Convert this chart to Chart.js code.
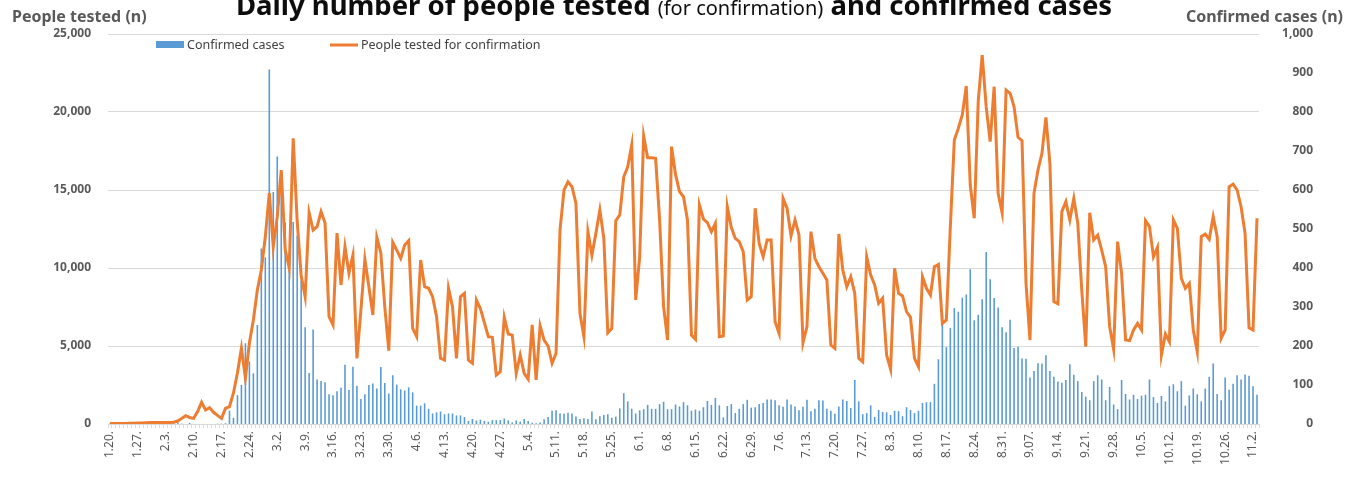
<!DOCTYPE html>
<html>
<head>
<meta charset="utf-8">
<title>Daily number of people tested and confirmed cases</title>
<script src="https://cdn.jsdelivr.net/npm/chart.js@4.4.0/dist/chart.umd.min.js"></script>
<style>
  html, body { margin: 0; padding: 0; background: #ffffff; }
  #wrap { width: 1358px; height: 490px; }
</style>
</head>
<body>
<div id="wrap"><canvas id="daily" width="1358" height="490"></canvas></div>
<script>
// one label every 7 days, as printed under the axis
const tickLabels = ["1.20.", "1.27.", "2.3.", "2.10.", "2.17.", "2.24.", "3.2.", "3.9.", "3.16.", "3.23.", "3.30.",
  "4.6.", "4.13.", "4.20.", "4.27.", "5.4.", "5.11.", "5.18.", "5.25.", "6.1.", "6.8.", "6.15.", "6.22.", "6.29.",
  "7.6.", "7.13.", "7.20.", "7.27.", "8.3.", "8.10.", "8.17.", "8.24.", "8.31.", "9.07.", "9.14.", "9.21.", "9.28.",
  "10.5.", "10.12.", "10.19.", "10.26.", "11.2."];

// daily confirmed cases, 1.20 -> 11.3 (right axis)
const confirmed = [
  1, 0, 0, 0, 1, 0, 1, 1, 0, 0, 2, 5,
  1, 3, 0, 1, 2, 4, 1, 0, 3, 0, 0, 0, 0, 0, 0, 1, 1, 2, 34, 16, 74, 100, 207, 160, 130, 254, 450, 427, 909,
  595, 686, 600, 516, 438, 518, 483, 367, 248, 131, 242, 114, 110, 107, 76, 74, 84, 93, 152, 87, 147, 98, 64, 76, 100, 104, 91, 146, 105, 78, 125,
  101, 89, 86, 94, 81, 47, 47, 53, 39, 27, 30, 32, 25, 27, 27, 22, 22, 18, 8, 13, 9, 11, 8, 6, 10, 10, 10, 14, 9, 4,
  9, 6, 13, 8, 3, 2, 4, 12, 18, 34, 35, 27, 26, 29, 27, 19, 13, 15, 13, 32, 12, 20, 23, 25, 16, 19, 40, 79, 58, 39, 27,
  35, 38, 49, 39, 39, 51, 57, 38, 38, 50, 45, 56, 48, 34, 37, 34, 43, 59, 49, 67, 48, 17, 46, 51, 28, 39, 51, 62, 42, 43,
  51, 54, 63, 63, 61, 48, 44, 63, 50, 45, 35, 44, 62, 33, 39, 61, 60, 39, 34, 26, 45, 63, 59, 41, 113, 58, 25, 28, 48, 18, 36,
  31, 30, 23, 34, 33, 20, 43, 36, 28, 34, 54, 56, 56, 103, 166, 279, 197, 246, 297, 288, 324, 332, 397, 266, 280, 320, 441, 371, 323, 299, 248,
  235, 267, 195, 198, 168, 167, 119, 136, 156, 155, 176, 136, 121, 109, 106, 113, 153, 126, 110, 82, 70, 61, 110, 125, 114, 61, 95, 50, 38, 113,
  77, 63, 75, 64, 73, 75, 114, 69, 54, 72, 58, 97, 102, 84, 110, 47, 73, 91, 76, 58, 91, 121, 155, 77, 61, 119, 88, 103, 125, 114, 127,
  124, 97, 75
];

// people tested for confirmation per day (left axis)
const tested = [
  30, 30, 40, 40, 40, 50, 50, 60, 60, 80, 90, 100,
  100, 100, 90, 100, 110, 190, 350, 530, 420, 360, 800, 1390, 900, 1050, 750, 550, 360, 1000, 1110, 1990, 3270, 4870, 2950, 5190, 6670, 8590, 9870, 12000, 14800,
  11370, 13290, 16280, 11150, 10000, 18310, 13000, 9500, 8160, 13540, 12440, 12650, 13610, 12880, 6880, 6350, 12240, 8910, 11370, 9660, 10830, 4210, 7300, 10560, 8800, 6990, 11970, 10980, 7500, 4700, 11650,
  11150, 10620, 11470, 11750, 6130, 5600, 10510, 8800, 8700, 8160, 6880, 4210, 4100, 8700, 7520, 4210, 8160, 8380, 4100, 3890, 7950, 7400, 6500, 5600, 5560, 3140, 3350, 6840, 5770,
  5700, 3250, 4420, 3250, 2880, 6350, 2820, 6300, 5380, 5000, 3890, 4530, 12440, 15000, 15530, 15210, 14140, 7100, 5600, 12330, 10830, 12220, 13720, 11900, 5850, 6130, 13030, 13400, 15850, 16490, 17880,
  7950, 10720, 18460, 17070, 17070, 17030, 13080, 7520, 5380, 17780, 16000, 14900, 14570, 13080, 5700, 5430, 14040, 13140, 12900, 12330, 12860, 5600, 5640, 13930, 12610, 11900, 11690, 11050, 7950, 8160,
  13830, 11580, 10720, 11800, 11800, 6560, 5810, 14460, 13830, 12050, 13080, 12110, 5210, 6240, 12330, 10620, 10080, 9660, 9230, 5060, 4850, 12180, 9870, 8800, 9440, 8380, 4210, 3990, 10720, 9550, 8910,
  7740, 8060, 4420, 3500, 9980, 8380, 8210, 7200, 6840, 4210, 3670, 9440, 8700, 8270, 10080, 10230, 6450, 6670, 12650, 18200, 18950, 19810, 21670, 15320, 13190, 20660, 23650, 20340, 18100, 21620, 14790,
  13540, 21410, 21200, 20340, 18380, 18160, 9020, 5380, 14790, 16280, 17350, 19660, 16710, 7840, 7700, 13610, 14250, 13080, 14460, 12860, 8590, 4960, 13540, 11800, 12110, 11150, 10080, 6240, 4790, 11690,
  9660, 5380, 5340, 6030, 6450, 6030, 13030, 12650, 10720, 11330, 4420, 5770, 5280, 13080, 12540, 9340, 8700, 9020, 6030, 4640, 12010, 12180, 11840, 13290, 12010, 5490, 6030, 15210, 15380, 15000, 13930,
  12220, 6170, 6030, 13190
];

const days = [];
for (let i = 0; i < tested.length; i++) {
  const d = new Date(2020, 0, 20 + i);
  days.push((d.getMonth() + 1) + "." + d.getDate() + ".");
}

const FONT = "'Noto Sans', 'DejaVu Sans', sans-serif";
const gray = "#595959";

// title, axis captions and legend sit over the plot, drawn by hand
const decorations = {
  id: "decorations",
  afterDraw(chart) {
    const ctx = chart.ctx;
    ctx.save();
    ctx.textBaseline = "alphabetic";

    const bigFont = "bold 27.5px " + FONT;
    const smallFont = "20px " + FONT;
    const parts = [
      [bigFont, "Daily number of people tested "],
      [smallFont, "(for confirmation)"],
      [bigFont, " and confirmed cases"]
    ];
    let total = 0;
    parts.forEach(p => { ctx.font = p[0]; total += ctx.measureText(p[1]).width; });
    let x = 674 - total / 2;
    ctx.fillStyle = "#0d0d0d";
    ctx.textAlign = "left";
    parts.forEach(p => {
      ctx.font = p[0];
      ctx.fillText(p[1], x, 15);
      x += ctx.measureText(p[1]).width;
    });

    ctx.fillStyle = gray;
    ctx.font = "bold 16px " + FONT;
    ctx.textAlign = "left";
    ctx.fillText("People tested (n)", 12, 22);
    ctx.textAlign = "right";
    ctx.fillText("Confirmed cases (n)", 1343, 22);

    // legend
    ctx.font = "12.5px " + FONT;
    ctx.textAlign = "left";
    ctx.fillStyle = "#5b9bd5";
    ctx.fillRect(156, 41, 28, 7);
    ctx.fillStyle = "#404040";
    ctx.fillText("Confirmed cases", 187, 49);
    ctx.strokeStyle = "#ed7d31";
    ctx.lineWidth = 3;
    ctx.beginPath();
    ctx.moveTo(330, 45);
    ctx.lineTo(358, 45);
    ctx.stroke();
    ctx.fillStyle = "#404040";
    ctx.fillText("People tested for confirmation", 361, 49);
    ctx.restore();
  }
};

new Chart(document.getElementById("daily"), {
  data: {
    labels: days,
    datasets: [
      {
        type: "line",
        label: "People tested for confirmation",
        data: tested,
        yAxisID: "yL",
        borderColor: "#ed7d31",
        borderWidth: 3,
        pointRadius: 0,
        tension: 0,
        order: 0
      },
      {
        type: "bar",
        label: "Confirmed cases",
        data: confirmed,
        yAxisID: "yR",
        backgroundColor: "#5b9bd5",
        barPercentage: 0.4,
        categoryPercentage: 1,
        order: 1
      }
    ]
  },
  options: {
    responsive: false,
    animation: false,
    layout: { padding: { top: 34, right: 45, left: 0, bottom: 0 } },
    plugins: {
      legend: { display: false },
      tooltip: { enabled: false },
      title: { display: false }
    },
    scales: {
      x: {
        offset: true,
        grid: { drawOnChartArea: false, tickLength: 4, color: "#d9d9d9" },
        border: { color: "#d9d9d9" },
        ticks: {
          autoSkip: false,
          maxRotation: 90,
          minRotation: 90,
          padding: 3,
          color: gray,
          font: { family: FONT, size: 12 },
          callback: (v, i) => (i % 7 === 0 ? tickLabels[i / 7] : "")
        },
        afterFit: s => { s.height = 66; }
      },
      yL: {
        position: "left",
        min: 0,
        max: 25000,
        ticks: {
          stepSize: 5000,
          padding: 17,
          color: gray,
          font: { family: FONT, size: 12, weight: "bold" },
          callback: v => v.toLocaleString("en-US")
        },
        grid: { color: "#d9d9d9", drawTicks: false },
        border: { display: false },
        afterFit: s => { s.width = 108; }
      },
      yR: {
        position: "right",
        min: 0,
        max: 1000,
        ticks: {
          stepSize: 100,
          crossAlign: "far",
          color: gray,
          font: { family: FONT, size: 12, weight: "bold" },
          callback: v => v.toLocaleString("en-US")
        },
        grid: { display: false },
        border: { display: false },
        afterFit: s => { s.width = 54; }
      }
    }
  },
  plugins: [decorations]
});
</script>
</body>
</html>
